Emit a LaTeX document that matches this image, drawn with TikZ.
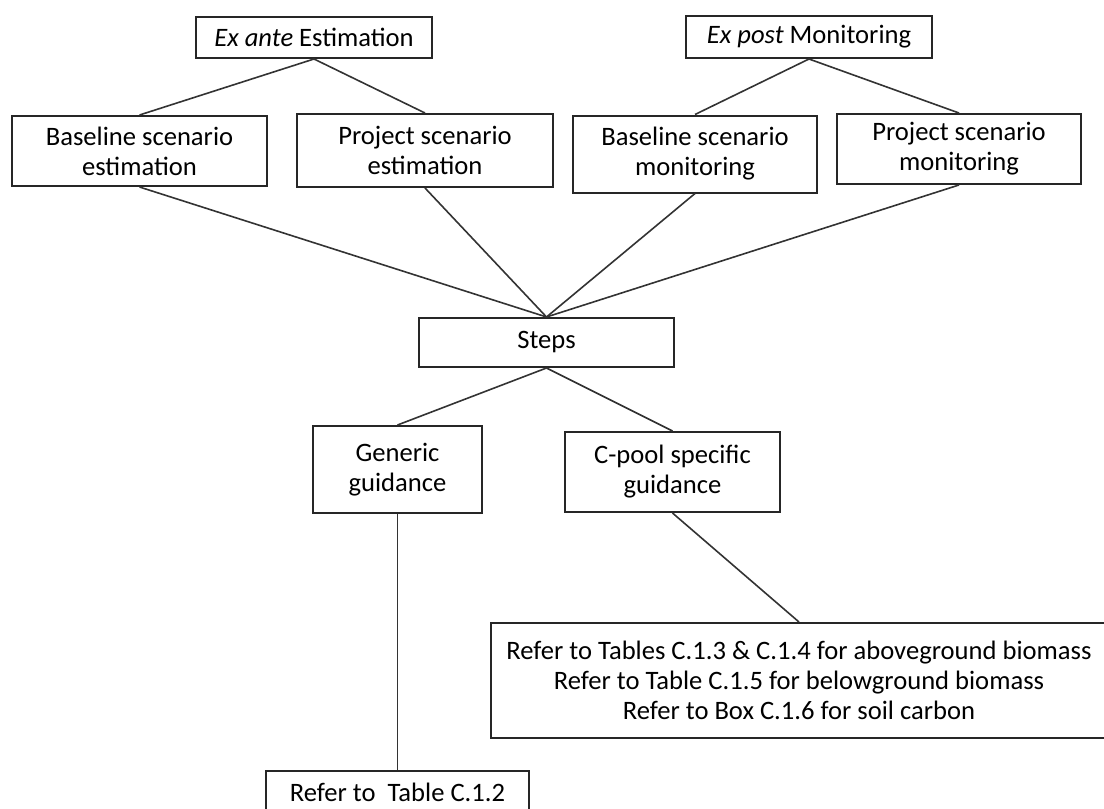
\documentclass[tikz,border=0pt]{standalone}
\usepackage{fontspec}
\setmainfont{Carlito}

\begin{document}
\begin{tikzpicture}[x=1pt,y=-1pt]
    % Define styles
    \tikzset{
        box/.style={draw=black!85, line width=2pt, align=center, inner sep=0pt,
            font=\fontsize{26.6}{30}\selectfont},
        link/.style={draw=black!80, line width=1.6pt}
    }

    \useasboundingbox (0,0) rectangle (1104,809);

    % Top level
    \node[box, minimum width=236pt, minimum height=41pt] (exante) at (314,37.5) {\textit{Ex ante} Estimation};
    \node[box, minimum width=246pt, minimum height=42pt] (expost) at (809,37) {\textit{Ex post} Monitoring};

    % Scenarios
    \node[box, minimum width=255pt, minimum height=70pt] (baseest) at (139.5,151) {Baseline scenario\\estimation};
    \node[box, minimum width=256pt, minimum height=73pt] (projest) at (425,150.5) {Project scenario\\estimation};
    \node[box, minimum width=244pt, minimum height=77pt] (basemon) at (695,154) {Baseline scenario\\monitoring};
    \node[box, minimum width=244pt, minimum height=70pt] (projmon) at (959,149) {Project scenario\\monitoring};

    % Steps and guidance
    \node[box, minimum width=255pt, minimum height=49pt] (steps) at (546.5,342.5) {Steps};
    \node[box, minimum width=169pt, minimum height=87pt] (generic) at (397.5,469.5) {Generic\\guidance};
    \node[box, minimum width=215pt, minimum height=80pt] (cpool) at (672.5,472) {C-pool specific\\guidance};

    % References
    \node[box, minimum width=616pt, minimum height=115pt] (refbox) at (799,680.5)
        {Refer to Tables C.1.3 \& C.1.4 for aboveground biomass\\Refer to Table C.1.5 for belowground biomass\\Refer to Box C.1.6 for soil carbon};
    \node[box, minimum width=263pt, minimum height=42pt] (reftable) at (397.5,792) {Refer to~~Table C.1.2};

    % Connectors
    \draw[link] (exante.south) -- (baseest.north);
    \draw[link] (exante.south) -- (projest.north);
    \draw[link] (expost.south) -- (basemon.north);
    \draw[link] (expost.south) -- (projmon.north);
    \foreach \src in {baseest,projest,basemon,projmon} {
        \draw[link] (\src.south) -- (steps.north);
    }
    \draw[link] (steps.south) -- (generic.north);
    \draw[link] (steps.south) -- (cpool.north);
    \draw[link] (cpool.south) -- (refbox.north);
    \draw[link] (generic.south) -- (reftable.north);
\end{tikzpicture}
\end{document}
